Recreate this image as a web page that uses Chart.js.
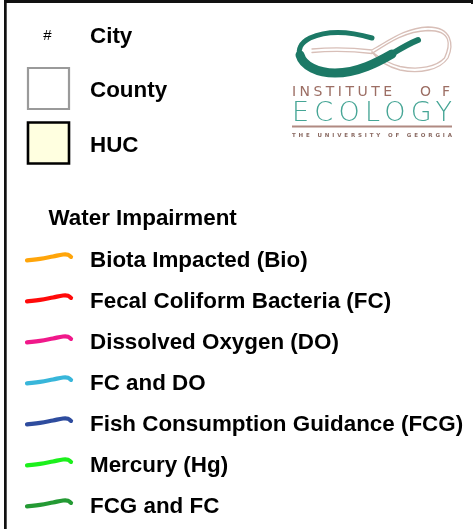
<!DOCTYPE html>
<html>
<head>
<meta charset="utf-8">
<script src="https://cdn.jsdelivr.net/npm/chart.js@4/dist/chart.umd.min.js"></script>
<style>
  html, body { margin: 0; padding: 0; background: #ffffff; }
  #wrap { width: 474px; height: 529px; }
</style>
</head>
<body>
<div id="wrap"><canvas id="c" width="474" height="529"></canvas></div>
<script>
// ---------- data ----------
const boundaryLabels = ['City', 'County', 'HUC'];
const boundarySymbols = ['#', 'box', 'box'];
const boundaryFill = [null, '#ffffff', '#ffffe0'];
const boundaryBorder = [null, '#9a9a9a', '#000000'];

const impairmentTitle = 'Water Impairment';
const impairmentLabels = [
  'Biota Impacted (Bio)',
  'Fecal Coliform Bacteria (FC)',
  'Dissolved Oxygen (DO)',
  'FC and DO',
  'Fish Consumption Guidance (FCG)',
  'Mercury (Hg)',
  'FCG and FC'
];
const impairmentColors = ['#ffa50a', '#ff0a0a', '#f0188a', '#38b6da', '#2e4c9e', '#1cf01c', '#249a34'];

const logoWords = ['INSTITUTE', 'OF', 'ECOLOGY', 'THE UNIVERSITY OF GEORGIA'];

// ---------- layout / style ----------
const W = 474, H = 529;
const LABEL_X = 90;
const FONT = 'bold 22.4px "Liberation Sans", Arial, sans-serif';
const B_ROW0 = 42.7, B_STEP = 54.5;      // baselines of boundary rows
const I_ROW0 = 267.3, I_STEP = 41;       // baselines of impairment rows
const SYMBOL_X = 48.5;
const BOX_RADIUS = 29;                   // rect point: side = 2*r*sqrt(1/2) ~ 41px
const SWATCH_X0 = 27;
const swatchShape = [[0, -7], [13, -8.4], [26, -10.8], [36, -12.8], [41, -12.6], [44, -10.4]];

const bBase = i => B_ROW0 + B_STEP * i;
const iBase = i => I_ROW0 + I_STEP * i;

// ---------- datasets ----------
const datasets = [];
impairmentLabels.forEach((lab, i) => {
  datasets.push({
    type: 'line',
    label: lab,
    data: swatchShape.map(([dx, dy]) => ({ x: SWATCH_X0 + dx, y: iBase(i) + dy })),
    borderColor: impairmentColors[i],
    borderWidth: 4.2,
    borderCapStyle: 'round',
    borderJoinStyle: 'round',
    tension: 0.4,
    pointRadius: 0,
    fill: false
  });
});
boundaryLabels.forEach((lab, i) => {
  if (boundarySymbols[i] !== 'box') return;
  datasets.push({
    type: 'scatter',
    label: lab,
    data: [{ x: SYMBOL_X, y: bBase(i) - 8.7 }],
    pointStyle: 'rect',
    pointRadius: BOX_RADIUS,
    pointHoverRadius: BOX_RADIUS,
    backgroundColor: boundaryFill[i],
    borderColor: boundaryBorder[i],
    borderWidth: i === 2 ? 2.6 : 2.2
  });
});

// ---------- helpers ----------
function spacedText(ctx, text, x0, x1, baseline) {
  const n = text.length;
  ctx.letterSpacing = '0px';
  const w = ctx.measureText(text).width;
  const sp = n > 1 ? (x1 - x0 - w) / (n - 1) : 0;
  if ('letterSpacing' in ctx) {
    ctx.letterSpacing = sp + 'px';
    ctx.fillText(text, x0, baseline);
    ctx.letterSpacing = '0px';
  } else {
    let x = x0;
    for (const ch of text) { ctx.fillText(ch, x, baseline); x += ctx.measureText(ch).width + sp; }
  }
}

const decorPlugin = {
  id: 'decor',
  afterDatasetsDraw(chart) {
    const ctx = chart.ctx;
    ctx.save();
    ctx.textAlign = 'left';
    ctx.textBaseline = 'alphabetic';
    ctx.fillStyle = '#000';

    // boundary labels
    ctx.font = FONT;
    boundaryLabels.forEach((lab, i) => ctx.fillText(lab, LABEL_X, bBase(i)));
    // city symbol
    ctx.font = '15px "Liberation Sans", Arial, sans-serif';
    ctx.textAlign = 'center';
    ctx.fillText(boundarySymbols[0], SYMBOL_X - 1, bBase(0) - 2.5);
    ctx.textAlign = 'left';

    // impairment title + labels
    ctx.font = FONT;
    ctx.fillText(impairmentTitle, 48.5, 225);
    impairmentLabels.forEach((lab, i) => ctx.fillText(lab, LABEL_X, iBase(i)));

    // ----- logo -----
    // pale loop (right)
    ctx.lineCap = 'round';
    ctx.strokeStyle = '#d8bfb8';
    ctx.lineWidth = 1.3;
    for (const off of [0, 3.5]) {
      ctx.beginPath();
      ctx.moveTo(312, 49 + off);
      ctx.bezierCurveTo(335, 47 + off, 355, 48 + off, 372, 50 + off);
      ctx.bezierCurveTo(390, 40 + off * 0.5, 405, 28 + off, 428, 27 + off);
      ctx.bezierCurveTo(452, 27 + off, 454 - off, 45, 448 - off, 58);
      ctx.bezierCurveTo(440 - off, 70 - off, 420, 74 - off, 400, 70 - off);
      ctx.bezierCurveTo(388, 67 - off, 378, 60 - off, 372, 52);
      ctx.stroke();
    }
    // teal swoosh
    ctx.strokeStyle = '#1c7966';
    ctx.lineWidth = 5;
    ctx.beginPath();
    ctx.moveTo(372, 38);
    ctx.bezierCurveTo(355, 33, 330, 29, 310, 38);
    ctx.bezierCurveTo(300, 43, 298, 50, 300, 55);
    ctx.stroke();
    ctx.lineWidth = 9;
    ctx.beginPath();
    ctx.moveTo(300, 55);
    ctx.bezierCurveTo(303, 66, 318, 73, 335, 73);
    ctx.bezierCurveTo(358, 73, 378, 62, 392, 54);
    ctx.stroke();
    ctx.lineWidth = 6;
    ctx.beginPath();
    ctx.moveTo(390, 55);
    ctx.bezierCurveTo(400, 49, 408, 44, 418, 40);
    ctx.stroke();

    // words
    ctx.fillStyle = '#9c6e64';
    ctx.font = '14px "DejaVu Sans", sans-serif';
    spacedText(ctx, logoWords[0], 292, 392, 95.5);
    spacedText(ctx, logoWords[1], 420, 450, 95.5);
    ctx.fillStyle = '#45a595';
    ctx.font = '200 27px "DejaVu Sans", sans-serif';
    spacedText(ctx, logoWords[2], 292, 452, 120.5);
    ctx.fillStyle = '#b08a82';
    ctx.fillRect(292, 125.5, 160, 2);
    ctx.fillStyle = '#8a6a62';
    ctx.font = 'bold 5.5px "DejaVu Sans", sans-serif';
    spacedText(ctx, logoWords[3], 292, 452, 137);

    // frame
    ctx.fillStyle = '#111';
    ctx.fillRect(4, 0, 469, 3);
    ctx.fillRect(4, 0, 2.7, H);
    ctx.fillRect(471, 0, 2, 4);
    ctx.restore();
  }
};

new Chart(document.getElementById('c'), {
  type: 'scatter',
  data: { datasets },
  options: {
    responsive: false,
    animation: false,
    events: [],
    layout: { padding: 0, autoPadding: false },
    scales: {
      x: { type: 'linear', min: 0, max: W, display: false },
      y: { type: 'linear', min: 0, max: H, reverse: true, display: false }
    },
    plugins: { legend: { display: false }, tooltip: { enabled: false } }
  },
  plugins: [decorPlugin]
});
</script>
</body>
</html>
